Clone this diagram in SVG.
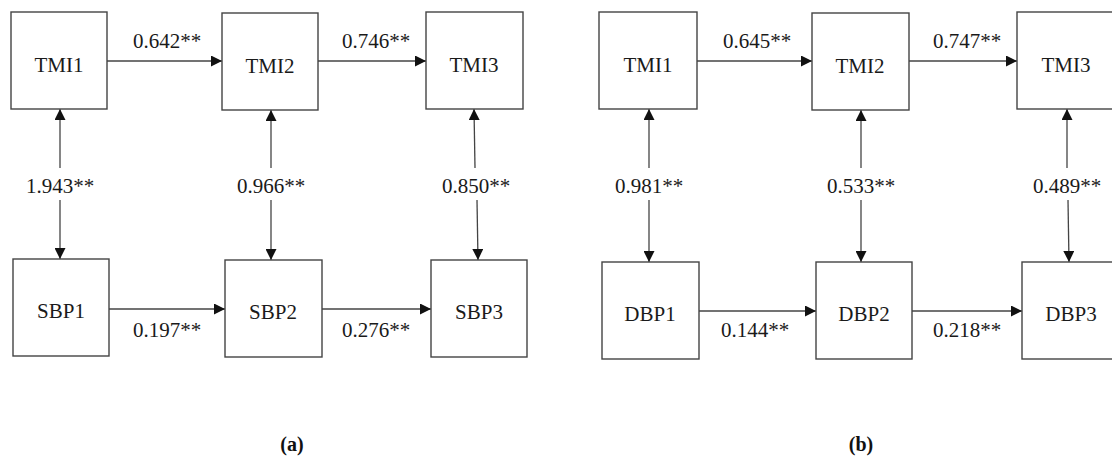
<svg xmlns="http://www.w3.org/2000/svg" width="1112" height="457" viewBox="0 0 1112 457">
<defs>
<marker id="ah" viewBox="0 0 10 10" refX="10" refY="5" markerWidth="11" markerHeight="11" markerUnits="userSpaceOnUse" orient="auto">
<path d="M0,0 L10,5 L0,10 z" fill="#111"/>
</marker>
<style>
.box{fill:#fff;stroke:#444;stroke-width:1.4}
.lbl{font-family:"Liberation Serif","Times New Roman",serif;font-size:21px;fill:#1a1a1a;text-anchor:middle}
.val{font-family:"Liberation Serif","Times New Roman",serif;font-size:21px;fill:#1a1a1a;text-anchor:middle}
.cap{font-family:"Liberation Serif","Times New Roman",serif;font-size:20px;font-weight:bold;fill:#111;text-anchor:middle}
.ln{stroke:#444;stroke-width:1.3;fill:none;marker-end:url(#ah)}
</style>
</defs>
<rect width="1112" height="457" fill="#fff"/>

<g id="connectors">
<line class="ln" x1="107" y1="61" x2="222" y2="61"/>
<line class="ln" x1="318" y1="61" x2="426" y2="61"/>
<line class="ln" x1="109" y1="309" x2="225" y2="309"/>
<line class="ln" x1="322" y1="309" x2="431" y2="309"/>
<line class="ln" x1="60" y1="168" x2="60" y2="109"/>
<line class="ln" x1="60" y1="200" x2="60" y2="259"/>
<line class="ln" x1="271" y1="168" x2="271" y2="110"/>
<line class="ln" x1="271" y1="200" x2="271" y2="260"/>
<line class="ln" x1="475" y1="168" x2="474" y2="109"/>
<line class="ln" x1="477" y1="200" x2="478" y2="260"/>
<line class="ln" x1="697" y1="61" x2="812" y2="61"/>
<line class="ln" x1="909" y1="61" x2="1017" y2="61"/>
<line class="ln" x1="699" y1="311" x2="816" y2="311"/>
<line class="ln" x1="912" y1="311" x2="1022" y2="311"/>
<line class="ln" x1="649" y1="168" x2="649" y2="109"/>
<line class="ln" x1="649" y1="200" x2="649" y2="262"/>
<line class="ln" x1="861" y1="168" x2="861" y2="110"/>
<line class="ln" x1="861" y1="200" x2="861" y2="262"/>
<line class="ln" x1="1067" y1="168" x2="1067" y2="109"/>
<line class="ln" x1="1068" y1="200" x2="1069" y2="262"/>
</g>

<g id="labels">
<text class="val" x="167" y="48">0.642**</text>
<text class="val" x="376" y="48">0.746**</text>
<text class="val" x="167" y="337">0.197**</text>
<text class="val" x="376" y="337">0.276**</text>
<text class="val" x="60" y="193">1.943**</text>
<text class="val" x="271" y="193">0.966**</text>
<text class="val" x="476" y="193">0.850**</text>
<text class="val" x="757" y="48">0.645**</text>
<text class="val" x="967" y="48">0.747**</text>
<text class="val" x="755" y="337">0.144**</text>
<text class="val" x="967" y="337">0.218**</text>
<text class="val" x="649" y="193">0.981**</text>
<text class="val" x="861" y="193">0.533**</text>
<text class="val" x="1067" y="193">0.489**</text>
</g>

<g id="a-TMI1"><rect class="box" x="11" y="12" width="96" height="97"/><text class="lbl" x="59" y="72">TMI1</text></g>
<g id="a-TMI2"><rect class="box" x="222" y="13" width="96" height="97"/><text class="lbl" x="270" y="73">TMI2</text></g>
<g id="a-TMI3"><rect class="box" x="426" y="12" width="97" height="97"/><text class="lbl" x="474" y="72">TMI3</text></g>
<g id="a-SBP1"><rect class="box" x="13" y="259" width="96" height="97"/><text class="lbl" x="61" y="318">SBP1</text></g>
<g id="a-SBP2"><rect class="box" x="225" y="260" width="97" height="97"/><text class="lbl" x="273" y="319">SBP2</text></g>
<g id="a-SBP3"><rect class="box" x="431" y="260" width="96" height="97"/><text class="lbl" x="479" y="319">SBP3</text></g>

<g id="b-TMI1"><rect class="box" x="599" y="12" width="98" height="97"/><text class="lbl" x="648" y="72">TMI1</text></g>
<g id="b-TMI2"><rect class="box" x="812" y="13" width="97" height="97"/><text class="lbl" x="860" y="73">TMI2</text></g>
<g id="b-TMI3"><rect class="box" x="1017" y="12" width="98" height="97"/><text class="lbl" x="1066" y="72">TMI3</text></g>
<g id="b-DBP1"><rect class="box" x="602" y="262" width="97" height="97"/><text class="lbl" x="650" y="321">DBP1</text></g>
<g id="b-DBP2"><rect class="box" x="816" y="262" width="96" height="97"/><text class="lbl" x="864" y="321">DBP2</text></g>
<g id="b-DBP3"><rect class="box" x="1022" y="262" width="97" height="97"/><text class="lbl" x="1071" y="321">DBP3</text></g>

<g id="captions">
<text class="cap" x="292" y="451">(a)</text>
<text class="cap" x="861" y="451">(b)</text>
</g>
</svg>
